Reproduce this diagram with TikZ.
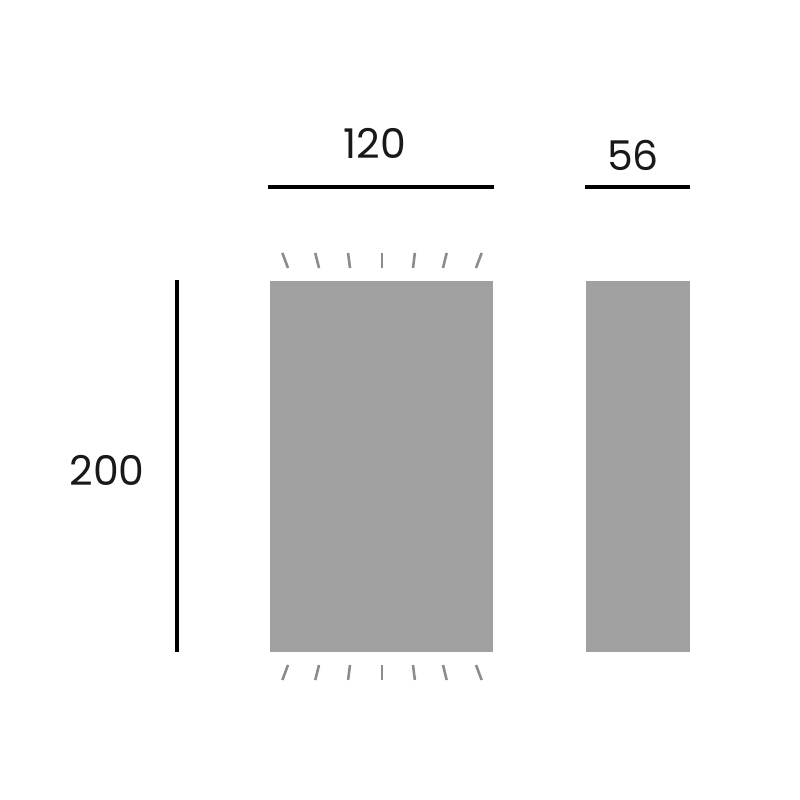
\documentclass[tikz,border=0pt]{standalone}
\usepackage{fontspec}
\setmainfont{Poppins}
\begin{document}
\begin{tikzpicture}[x=1pt,y=-1pt,
  panel/.style={fill=panelgrey,draw=none,inner sep=0pt,outer sep=0pt},
  dimline/.style={line width=3.2pt,black},
  dimtext/.style={font=\fontsize{41}{48}\selectfont, text=black!90, inner sep=0pt},
  ray/.style={line width=2.6pt,draw=raygrey}]
\definecolor{panelgrey}{HTML}{A0A0A0}
\definecolor{raygrey}{HTML}{8C8C8C}
\useasboundingbox (0,0) rectangle (800,800);
\fill[white] (0,0) rectangle (800,800);
% panels
\node[panel,minimum width=223pt,minimum height=371pt] (p1) at (381.5,466.5) {};
\node[panel,minimum width=104pt,minimum height=371pt] (p2) at (638,466.5) {};
% dimension lines
\coordinate (a1) at (268,187); \coordinate (a2) at (494,187);
\coordinate (b1) at (585,187); \coordinate (b2) at (690,187);
\coordinate (c1) at (177,280); \coordinate (c2) at (177,652);
\draw[dimline] (a1) -- (a2);
\draw[dimline] (b1) -- (b2);
\draw[dimline] (c1) -- (c2);
\node[dimtext] (t1) at (375,143) {120};
\node[dimtext] (t2) at (633,155) {56};
\node[dimtext] (t3) at (107,470) {200};
% rays
\foreach \x [count=\i] in {288,319,350,382,413,443,476}{
  \pgfmathsetmacro{\dx}{(\x-382)*0.06}
  \coordinate (u\i a) at (\x,268); \coordinate (u\i b) at (\x+\dx,253);
  \draw[ray] (u\i a) -- (u\i b);
  \coordinate (d\i a) at (\x,665); \coordinate (d\i b) at (\x+\dx,680);
  \draw[ray] (d\i a) -- (d\i b);
}
\end{tikzpicture}
\end{document}
